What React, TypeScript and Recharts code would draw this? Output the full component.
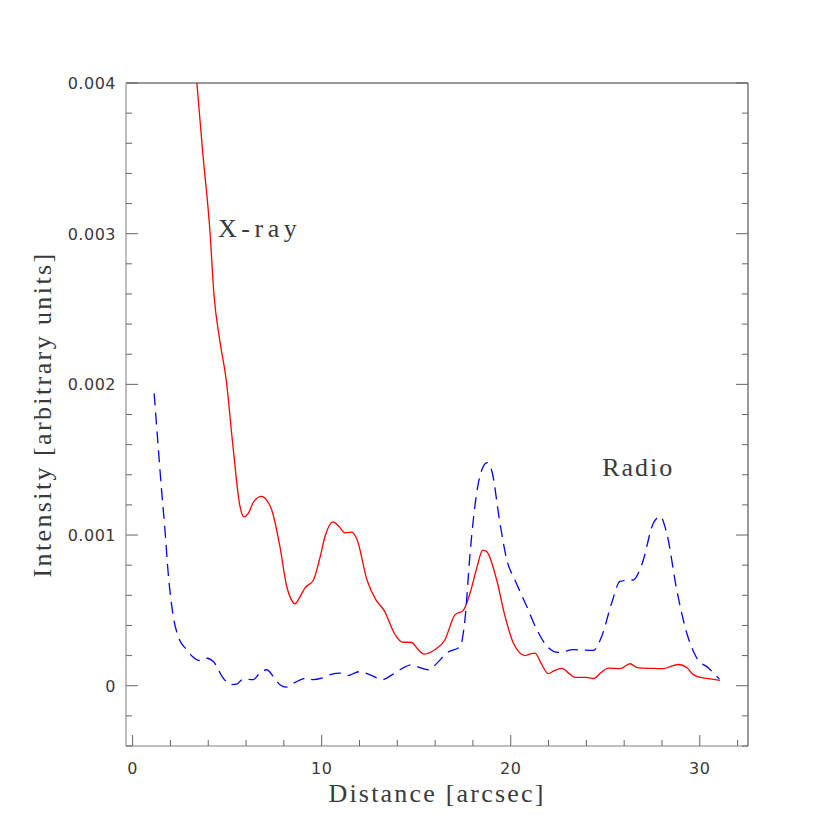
import { LineChart, Line, XAxis, YAxis, ReferenceDot } from 'recharts';

// X-ray profile (red, solid)
const xrayDist = [
  3.1, 3.4, 3.7, 4.1, 4.3, 4.6, 4.95, 5.3, 5.68, 5.89, 6.1, 6.4, 6.82, 7.1, 7.35, 7.79, 8.15, 8.4, 8.59, 8.85,
  9.12, 9.56, 9.88, 10.2, 10.6, 10.9, 11.23, 11.6, 11.87, 12.4, 12.87, 13.3, 13.88, 14.25, 14.76, 15.1, 15.42,
  16.0, 16.5, 17.05, 17.49, 17.85, 18.2, 18.52, 18.73, 19.26, 19.7, 20.14, 20.76, 21.0, 21.29, 21.6, 21.99,
  22.3, 22.7, 23.1, 23.4, 24.0, 24.37, 24.8, 25.16, 25.78, 26.31, 26.7, 27.02, 27.6, 28.07, 28.5, 28.87, 29.31,
  29.6, 29.93, 30.55, 31.07,
];
const xrayInt = [
  4.45, 4.0, 3.55, 3.0, 2.6, 2.3, 2.03, 1.6, 1.19, 1.12, 1.14, 1.22, 1.256, 1.23, 1.17, 0.925, 0.66, 0.57, 0.544, 0.59,
  0.65, 0.7, 0.836, 1.0, 1.088, 1.06, 1.015, 1.02, 0.97, 0.7, 0.57, 0.5, 0.34, 0.29, 0.287, 0.24, 0.21,
  0.24, 0.3, 0.47, 0.5, 0.615, 0.78, 0.9, 0.89, 0.7, 0.46, 0.283, 0.2, 0.21, 0.217, 0.15, 0.08,
  0.1, 0.115, 0.08, 0.055, 0.055, 0.048, 0.09, 0.117, 0.113, 0.146, 0.12, 0.117, 0.115, 0.113, 0.13, 0.141, 0.121,
  0.08, 0.058, 0.046, 0.035,
];

// Radio profile (blue, dashed)
const radioDist = [
  1.14, 1.35, 1.53, 1.71, 1.88, 2.15, 2.41, 2.86, 3.2, 3.47, 3.88, 4.27, 4.79, 5.24, 5.5, 5.85, 6.38, 6.7, 7.09,
  7.45, 7.79, 8.15, 8.59, 9.21, 9.56, 10.0, 10.5, 10.97, 11.32, 12.0, 12.6, 13.2, 13.7, 14.14, 14.76, 15.2, 15.64,
  16.1, 16.61, 17.32, 17.58, 17.85, 18.2, 18.55, 18.76, 18.99, 19.43, 19.79, 20.23, 20.85, 21.38, 21.9, 22.52,
  23.31, 24.37, 24.81, 25.34, 25.78, 26.2, 26.49, 26.93, 27.55, 27.9, 28.25, 28.78, 29.31, 29.84, 30.46, 31.04,
];
const radioInt = [
  1.94, 1.59, 1.3, 1.035, 0.75, 0.46, 0.327, 0.239, 0.19, 0.168, 0.184, 0.161, 0.051, 0.007, 0.01, 0.044, 0.04, 0.08, 0.106,
  0.06, 0.007, -0.009, 0.022, 0.051, 0.04, 0.05, 0.075, 0.084, 0.066, 0.093, 0.07, 0.04, 0.07, 0.106, 0.139, 0.12, 0.106,
  0.15, 0.217, 0.26, 0.44, 0.88, 1.28, 1.455, 1.48, 1.43, 1.08, 0.836, 0.7, 0.526, 0.372, 0.265, 0.221,
  0.239, 0.234, 0.327, 0.549, 0.692, 0.7, 0.703, 0.803, 1.08, 1.124, 1.013, 0.637, 0.35, 0.184, 0.117, 0.044,
];

const xTicks = [0, 2, 4, 6, 8, 10, 12, 14, 16, 18, 20, 22, 24, 26, 28, 30, 32];
const xMajor = [0, 10, 20, 30];
const xTickLabels = ['0', '10', '20', '30'];

const yTicks = [
  -0.0004, -0.0002, 0, 0.0002, 0.0004, 0.0006, 0.0008, 0.001, 0.0012, 0.0014, 0.0016, 0.0018,
  0.002, 0.0022, 0.0024, 0.0026, 0.0028, 0.003, 0.0032, 0.0034, 0.0036, 0.0038, 0.004,
];
const yMajor = [0, 0.001, 0.002, 0.003, 0.004];
const yTickLabels = ['0', '0.001', '0.002', '0.003', '0.004'];

const xray = xrayDist.map((d, i) => ({ d, v: xrayInt[i] / 1000 }));
const radio = radioDist.map((d, i) => ({ d, v: radioInt[i] / 1000 }));

const TICK_FONT = '"DejaVu Sans", sans-serif';
const LABEL_FONT = '"Liberation Serif", serif';
const TEXT = '#3a3a3a';

const majorIdx = (arr: number[], v: number) => arr.findIndex((m) => Math.abs(m - v) < 1e-9);

function XTick(props: any) {
  const { x, y, payload, side } = props;
  const idx = majorIdx(xMajor, payload.value);
  const len = idx >= 0 ? 11 : 6;
  const dir = side === 'bottom' ? -1 : 1;
  return (
    <g>
      <line x1={x} y1={y} x2={x} y2={y + dir * len} stroke="#666" strokeWidth={1} />
      {side === 'bottom' && idx >= 0 && (
        <text x={x} y={y + 28} textAnchor="middle" fontSize={16} fontFamily={TICK_FONT}
          fill={TEXT} letterSpacing={0.5}>
          {xTickLabels[idx]}
        </text>
      )}
    </g>
  );
}

function YTick(props: any) {
  const { x, y, payload, side } = props;
  const idx = majorIdx(yMajor, payload.value);
  const len = idx >= 0 ? 12 : 6;
  const dir = side === 'left' ? 1 : -1;
  return (
    <g>
      <line x1={x} y1={y} x2={x + dir * len} y2={y} stroke="#666" strokeWidth={1} />
      {side === 'left' && idx >= 0 && (
        <text x={x - 10} y={y + 6} textAnchor="end" fontSize={16} fontFamily={TICK_FONT}
          fill={TEXT} letterSpacing={0.5}>
          {yTickLabels[idx]}
        </text>
      )}
    </g>
  );
}

export default function App() {
  return (
    <div style={{ position: 'absolute', left: 0, top: 0, width: 830, height: 830, background: '#fff' }}>
      <LineChart width={830} height={830} margin={{ top: 82, right: 81, bottom: 83, left: 125 }}>
        <XAxis
          xAxisId="b"
          dataKey="d"
          type="number"
          domain={[-0.35, 32.55]}
          ticks={xTicks}
          interval={0}
          height={1}
          tickSize={0}
          tickMargin={0}
          tickLine={false}
          axisLine={{ stroke: '#aaa', strokeWidth: 1.5 }}
          tick={(p: any) => <XTick {...p} side="bottom" />}
          label={{
            content: ({ viewBox }: any) => (
              <text x={viewBox.x + viewBox.width / 2} y={viewBox.y + 56} textAnchor="middle"
                fontSize={26} fontFamily={LABEL_FONT} fill={TEXT} letterSpacing={2.2}>
                Distance [arcsec]
              </text>
            ),
          }}
        />
        <XAxis
          xAxisId="t"
          orientation="top"
          type="number"
          domain={[-0.35, 32.55]}
          ticks={xTicks}
          interval={0}
          height={1}
          tickSize={0}
          tickMargin={0}
          tickLine={false}
          axisLine={{ stroke: '#333', strokeWidth: 1 }}
          tick={(p: any) => <XTick {...p} side="top" />}
        />
        <YAxis
          yAxisId="l"
          type="number"
          domain={[-0.0004, 0.004]}
          allowDataOverflow
          ticks={yTicks}
          interval={0}
          width={1}
          tickSize={0}
          tickMargin={0}
          tickLine={false}
          axisLine={{ stroke: '#aaa', strokeWidth: 1.5 }}
          tick={(p: any) => <YTick {...p} side="left" />}
          label={{
            content: ({ viewBox }: any) => {
              const cx = viewBox.x + viewBox.width - 84;
              const cy = viewBox.y + viewBox.height / 2;
              return (
                <text x={cx} y={cy} transform={`rotate(-90 ${cx} ${cy})`} textAnchor="middle"
                  dominantBaseline="central" fontSize={26} fontFamily={LABEL_FONT} fill={TEXT} letterSpacing={2.4}>
                  Intensity [arbitrary units]
                </text>
              );
            },
          }}
        />
        <YAxis
          yAxisId="r"
          orientation="right"
          type="number"
          domain={[-0.0004, 0.004]}
          allowDataOverflow
          ticks={yTicks}
          interval={0}
          width={1}
          tickSize={0}
          tickMargin={0}
          tickLine={false}
          axisLine={{ stroke: '#333', strokeWidth: 1 }}
          tick={(p: any) => <YTick {...p} side="right" />}
        />
        <Line
          xAxisId="b"
          yAxisId="l"
          data={xray}
          dataKey="v"
          type="monotone"
          stroke="#ff0000"
          strokeWidth={1.3}
          dot={false}
          activeDot={false}
          isAnimationActive={false}
        />
        <Line
          xAxisId="b"
          yAxisId="l"
          data={radio}
          dataKey="v"
          type="monotone"
          stroke="#0000ff"
          strokeWidth={1.3}
          strokeDasharray="12 7"
          dot={false}
          activeDot={false}
          isAnimationActive={false}
        />
        <ReferenceDot
          xAxisId="b"
          yAxisId="l"
          x={4.52}
          y={0.00304}
          r={0}
          fill="none"
          stroke="none"
          label={{ value: 'X-ray', position: 'right', offset: 0, fontSize: 26, fontFamily: LABEL_FONT, fill: TEXT, letterSpacing: 4.5 }}
        />
        <ReferenceDot
          xAxisId="b"
          yAxisId="l"
          x={24.84}
          y={0.00145}
          r={0}
          fill="none"
          stroke="none"
          label={{ value: 'Radio', position: 'right', offset: 0, fontSize: 26, fontFamily: LABEL_FONT, fill: TEXT, letterSpacing: 2 }}
        />
      </LineChart>
    </div>
  );
}
